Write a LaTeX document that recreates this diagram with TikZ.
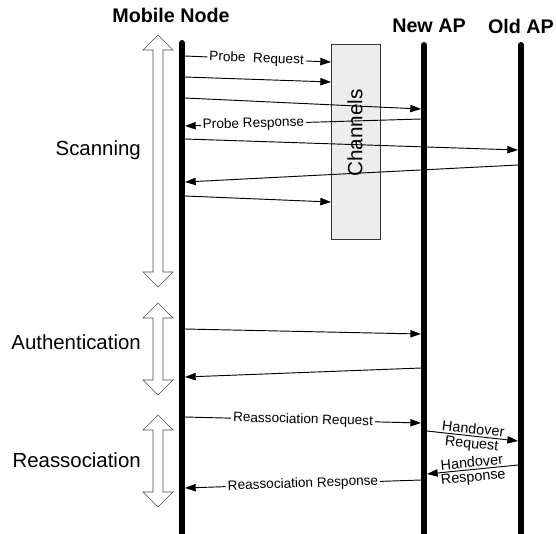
\documentclass[tikz,border=0pt]{standalone}
\usepackage{fontspec}
\setmainfont{Liberation Sans}
\usetikzlibrary{arrows.meta,calc}

\tikzset{
    lifeline/.style={line width=4.5pt, line cap=round},
    msg/.style={line width=0.7pt, -{Triangle[length=8pt,width=5.5pt]}},
    msglbl/.style={fill=white, inner sep=1.5pt, sloped, font=\fontsize{10.2}{12}\selectfont},
    holbl/.style={inner sep=0.3pt, sloped, font=\fontsize{10.8}{12}\selectfont},
    phase/.style={draw=black!70, line width=0.5pt, fill=white},
    phaselbl/.style={anchor=east, inner sep=0pt, font=\fontsize{15.3}{17}\selectfont},
    head/.style={inner sep=0pt, font=\bfseries\fontsize{14.8}{17}\selectfont},
    chanbox/.style={draw=black!80, fill=black!7, line width=0.6pt, inner sep=0pt,
                    minimum width=36.75pt, minimum height=146.25pt},
}

\begin{document}
\begin{tikzpicture}[x=0.75pt, y=-0.75pt]
    \useasboundingbox (0,0) rectangle (556,533);

    % Headers
    \node[head] (mn) at (171,15) {Mobile Node};
    \node[head] (newap) at (429,26) {New AP};
    \node[head] (oldap) at (521,26) {Old AP};

    % Channels box
    \node[chanbox] (chan) at (355.5,141.5) {};
    \node[rotate=90, inner sep=0pt, font=\fontsize{15.5}{17}\selectfont] (chantxt) at (355,133) {Channels};

    % Lifelines
    \draw[lifeline] (182,43) -- (182,540);
    \draw[lifeline] (424,45) -- (424,540);
    \draw[lifeline] (521,45) -- (521,540);

    % line edges
    \coordinate (mnR) at (185,0);
    \coordinate (newL) at (421,0);
    \coordinate (newR) at (427,0);
    \coordinate (oldL) at (518,0);
    \coordinate (chanL) at (331,0);

    % Phases
    \foreach \nm/\t/\b/\ly in {Scanning/35/287/150, Authentication/303/395/342, Reassociation/415/507/460} {
        \draw[phase] (158,\t) -- (173,\t+15) -- (163,\t+15) -- (163,\b-15) -- (173,\b-15) -- (158,\b)
                     -- (143,\b-15) -- (153,\b-15) -- (153,\t+15) -- (143,\t+15) -- cycle;
        \node[phaselbl] (\nm) at (141,\ly) {\nm};
    }

    % Unlabelled messages
    \foreach \s/\ys/\e/\ye in {mnR/77/chanL/82, mnR/98/newL/109, mnR/139/oldL/150, oldL/165/mnR/182,
                               mnR/196/chanL/202, mnR/329/newL/334, newL/368/mnR/377}
        \draw[msg] ($(\s)+(0,\ys)$) -- ($(\e)+(0,\ye)$);

    % Labelled messages
    \draw[msg] ($(mnR)+(0,56)$) -- node[msglbl, pos=0.49] {Probe\ \ Request} ($(chanL)+(0,62)$);
    \draw[msg] ($(newL)+(0,119)$) -- node[msglbl, pos=0.71] {Probe Response} ($(mnR)+(0,126)$);
    \draw[msg] ($(mnR)+(0,417)$) -- node[msglbl, pos=0.5] {Reassociation Request} ($(newL)+(0,423)$);
    \draw[msg] ($(newR)+(0,431)$) -- node[holbl, above=1pt, pos=0.5] (horeq1) {Handover}
                                     node[holbl, below=1pt, pos=0.5] (horeq2) {Request} ($(oldL)+(0,441)$);
    \draw[msg] ($(oldL)+(0,465)$) -- node[holbl, above=1pt, pos=0.5] (hores1) {Handover}
                                     node[holbl, below=1pt, pos=0.5] (hores2) {Response} ($(newR)+(0,474)$);
    \draw[msg] ($(newL)+(0,480)$) -- node[msglbl, pos=0.5] {Reassociation Response} ($(mnR)+(0,488)$);
\end{tikzpicture}
\end{document}
